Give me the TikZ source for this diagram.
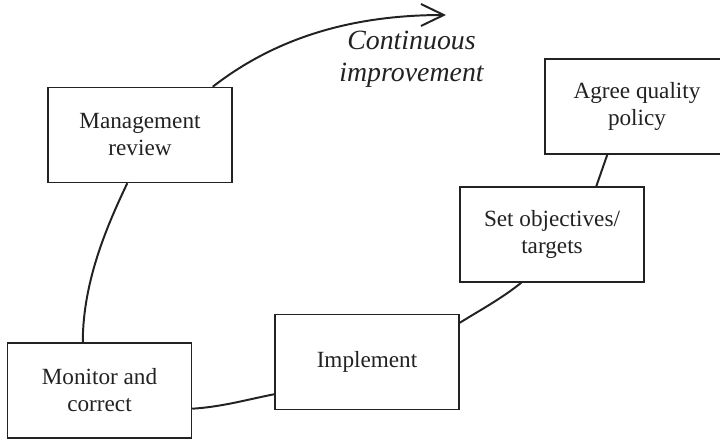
\documentclass[tikz,border=0pt]{standalone}
\usepackage{fontspec}
\setmainfont{Liberation Serif}
\usetikzlibrary{arrows.meta,calc}
\definecolor{ink}{HTML}{222222}
\begin{document}
\begin{tikzpicture}[x=0.025cm,y=-0.025cm,
  stagebox/.style={draw=ink, line width=1pt, fill=white, text=ink,
    minimum width=4.6cm, minimum height=2.375cm, inner sep=2pt,
    align=center, font=\fontsize{16.5}{19.2}\selectfont},
  conn/.style={draw=ink, line width=1.4pt},
  cyclelabel/.style={text=ink, align=center, inner sep=0pt,
    font=\fontsize{19.8}{22.8}\selectfont\itshape}]
  \useasboundingbox (0,0) rectangle (720,440);
  \clip (0,0) rectangle (720,440);

  % stages of the cycle
  \node[stagebox] (agree) at (637,106.5) {Agree quality\\policy};
  \node[stagebox] (set)   at (552,234.5) {Set objectives/\\targets};
  \node[stagebox] (impl)  at (367,362)   {Implement};
  \node[stagebox] (mon)   at (99.5,390.5) {Monitor and\\correct};
  \node[stagebox] (mgmt)  at (140,135)   {Management\\review};

  \coordinate (tip) at (446,15);
  \node[cyclelabel] (ci) at (411.5,59) {Continuous\\improvement};

  % links between the stages
  \draw[conn] ([shift={(63,0)}]agree.south west) -- ([shift={(137,0)}]set.north west);
  \draw[conn] ([shift={(62,0)}]set.south west)
    .. controls +(-20,16) and +(21,-13) .. ([shift={(0,9)}]impl.north east);
  \draw[conn] ([shift={(0,-16)}]impl.south west)
    .. controls +(-30,6) and +(30,-2) .. ([shift={(0,-30)}]mon.south east);
  \draw[conn] ([shift={(76,0)}]mon.north west)
    .. controls +(0,-63) and +(-18,38) .. ([shift={(80,0)}]mgmt.south west);
  \draw[conn, -{Straight Barb[length=0.57cm,width=0.55cm,line width=1.4pt]}]
    ([shift={(-20,0)}]mgmt.north east)
    .. controls +(68,-53) and +(-86,0) .. (tip);
\end{tikzpicture}
\end{document}
